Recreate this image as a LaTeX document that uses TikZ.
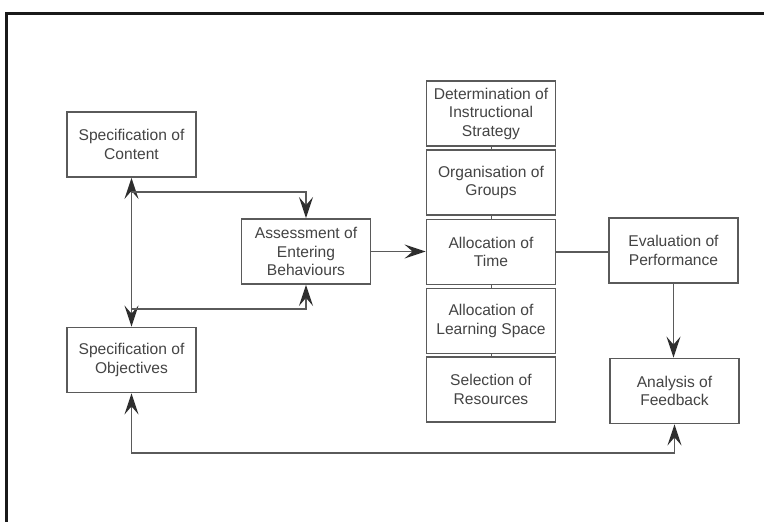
\documentclass[tikz,border=0pt]{standalone}
\usepackage{fontspec}
\setmainfont{Liberation Sans}
\usetikzlibrary{arrows.meta}
\definecolor{boxline}{HTML}{5A5A5A}
\definecolor{textc}{HTML}{444444}
\definecolor{tipc}{HTML}{2E2E2E}
\begin{document}
\begin{tikzpicture}[x=1pt,y=-1pt,
  box/.style={draw=boxline, line width=1.8pt, minimum width=129pt, minimum height=65pt,
    inner sep=0pt, align=center, font=\fontsize{15.6}{18.5}\selectfont, text=textc},
  conn/.style={draw=boxline, line width=1.8pt},
  tip/.tip={Stealth[length=21pt,width=14pt,inset=8pt,color=tipc]},
  arr/.style={conn, -tip},
  dbl/.style={conn, tip-tip}]
\useasboundingbox (0,0) rectangle (764,522);
\fill[white] (0,0) rectangle (764,522);
\draw[black!90, line width=3pt] (764,13) -- (6,13) -- (6,522);

\node[box] (content) at (131.5,144.5) {Specification of\\Content};
\node[box] (obj) at (131.5,360) {Specification of\\Objectives};
\node[box] (assess) at (306,251.5) {Assessment of\\Entering\\Behaviours};
\node[box] (s1) at (491,113.5) {Determination of\\Instructional\\Strategy};
\node[box] (s2) at (491,182.5) {Organisation of\\Groups};
\node[box] (s3) at (491,252) {Allocation of\\Time};
\node[box] (s4) at (491,321) {Allocation of\\Learning Space};
\node[box] (s5) at (491,389.5) {Selection of\\Resources};
\node[box] (eval) at (673.5,250.5) {Evaluation of\\Performance};
\node[box] (anal) at (674.5,391) {Analysis of\\Feedback};

\coordinate (c1) at (131.5,192);
\coordinate (c2) at (131.5,309);
\coordinate (bl) at (131.5,453);

\draw[dbl] (content.south) -- (obj.north);
\draw[arr] (c1) -| (assess.north);
\draw[arr] (c2) -| (assess.south);
\draw[arr] (assess.east) -- (assess.east -| s3.west);
\draw[conn] (s3.east) -- (s3.east -| eval.west);
\draw[arr] (eval.south) -- (eval.south |- anal.north);
\draw[dbl] (obj.south) -- (bl) -| (anal.south);

\draw[conn, line width=0.8pt] (s1.south) -- (s2.north);
\draw[conn, line width=0.8pt] (s2.south) -- (s3.north);
\draw[conn, line width=0.8pt] (s3.south) -- (s4.north);
\draw[conn, line width=0.8pt] (s4.south) -- (s5.north);
\end{tikzpicture}
\end{document}
